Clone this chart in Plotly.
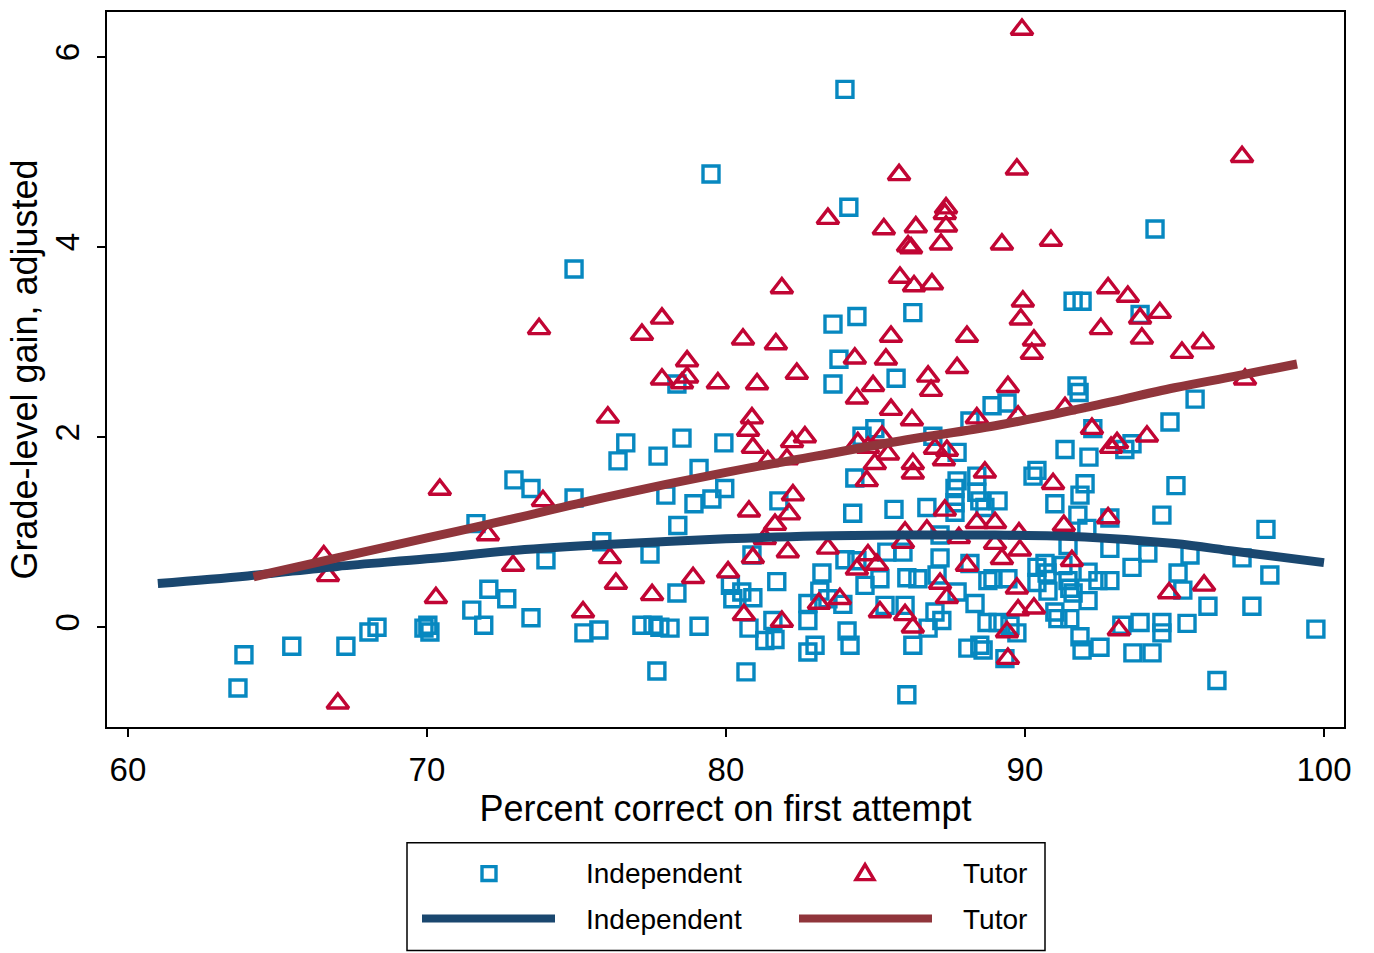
import plotly.graph_objects as go

# Independent students: percent correct on first attempt vs adjusted gain
indep_x = [
    63.68, 63.88, 65.48, 67.29, 68.06, 68.33, 69.90, 70.03, 70.10, 71.50,
    71.64, 71.90, 72.07, 72.67, 72.91, 73.48, 73.48, 73.98, 74.92, 74.92,
    75.25, 75.75, 75.85, 76.39, 76.65, 77.19, 77.56, 77.79, 78.13, 77.69,
    77.46, 78.36, 79.10, 77.73, 77.99, 78.39, 78.93, 78.53, 79.10, 79.53,
    79.93, 78.36, 79.50,
    79.96, 81.77, 84.24, 80.87, 81.70, 83.21, 80.15, 80.53, 80.90, 80.23,
    83.14, 83.41, 82.74, 82.74, 83.91, 83.98, 84.38, 84.65, 85.15, 80.77,
    81.30, 81.64, 81.57, 82.74, 82.98, 84.05, 84.15, 80.67,
    83.58, 84.38, 83.78, 83.58, 84.55, 84.98, 84.31, 83.98, 84.11,
    86.25, 85.69, 88.16, 88.90, 89.40, 86.92, 87.73, 87.73, 88.39, 90.27,
    90.40,
    85.62, 86.72, 87.66, 87.66, 87.66, 88.39, 88.49, 88.66, 89.10, 87.16,
    87.16, 85.38, 85.92, 86.05, 86.42, 87.06, 85.32, 85.99, 86.99, 87.22,
    86.76, 87.73, 88.33, 88.16, 88.76, 88.93, 89.43, 90.40, 90.40, 88.73,
    89.10, 89.50, 89.73, 86.25, 88.09, 88.49, 88.60, 89.33, 86.05,
    91.61, 91.91, 93.85, 91.74, 91.81, 95.69, 94.85, 92.27, 91.34, 92.14,
    93.58, 93.34, 92.01, 95.05,
    91.00, 91.84, 91.77, 92.07, 92.84, 94.58, 91.44, 92.84, 94.11, 93.58,
    95.52, 90.67, 90.74, 91.27, 92.11, 92.44, 92.84, 91.44, 91.50, 90.77,
    91.61, 92.11, 95.12, 95.28, 91.00, 91.10, 91.50, 91.84, 91.91, 92.51,
    93.24, 93.85, 94.58, 94.58, 95.42, 93.61, 94.25,
    98.06, 98.19, 96.12, 97.59, 99.73, 96.42, 97.26, 94.35,
]
indep_y = [
    -0.64, -0.29, -0.20, -0.20, -0.05, 0.00, -0.01, 0.02, -0.05, 0.18,
    1.09, 0.02, 0.40, 0.30, 1.55, 1.46, 0.10, 0.71, 3.77, 1.36,
    -0.06, -0.03, 0.90, 1.75, 1.94, 0.02, 0.02, 0.00, -0.01, -0.46,
    0.77, 0.36, 0.01, 1.80, 1.39, 1.07, 1.30, 1.99, 1.67, 1.35,
    1.94, 2.56, 4.77,
    1.46, 1.33, 1.20, 0.76, 0.48, 0.57, 0.44, 0.37, 0.31, 0.30,
    0.38, 0.30, 0.25, 0.07, 0.24, 0.71, 0.70, 0.44, 0.51, -0.01,
    -0.14, -0.13, 0.07, -0.26, -0.19, -0.04, -0.19, -0.47,
    3.19, 3.27, 2.82, 2.56, 2.01, 2.09, 1.57, 5.66, 4.42,
    3.31, 2.62, 2.17, 2.33, 2.36, 2.01, 1.84, 1.54, 1.59, 1.59,
    1.65,
    1.24, 1.26, 1.46, 1.31, 1.21, 1.42, 1.33, 1.26, 1.33, 0.97,
    0.73, 0.79, 0.79, 0.52, 0.51, 0.55, 0.23, 0.23, 0.16, 0.07,
    -0.01, 0.37, 0.25, 0.67, 0.49, 0.51, 0.51, 0.63, 0.47, 0.05,
    0.05, 0.02, -0.06, -0.19, -0.22, -0.19, -0.24, -0.33, -0.71,
    3.43, 3.43, 3.29, 2.54, 2.47, 2.40, 2.16, 2.09, 1.87, 1.79,
    1.93, 1.87, 1.51, 1.49,
    1.30, 1.39, 1.18, 1.04, 1.15, 1.18, 0.86, 0.83, 0.78, 0.63,
    0.76, 0.67, 0.57, 0.65, 0.58, 0.49, 0.49, 0.49, 0.41, 0.38,
    0.36, 0.28, 0.57, 0.39, 0.16, 0.09, 0.09, -0.10, -0.24, -0.21,
    0.02, 0.05, 0.05, -0.06, 0.04, -0.27, -0.27,
    1.03, 0.55, 0.22, 0.22, -0.02, -0.56, 0.73, 4.19,
]

# Tutored students
tutor_x = [
    66.55, 66.69, 67.02, 70.30, 70.43, 72.04, 72.88, 73.75, 73.88, 75.22,
    76.05, 76.12, 76.32, 77.19, 77.86, 77.53, 77.86, 78.70, 78.70, 78.53,
    78.90, 79.73, 81.87, 80.57, 81.67, 82.37, 81.04, 80.87, 80.74, 80.90,
    82.21, 82.64, 81.40, 82.04, 84.31, 84.92, 84.38, 84.41, 84.75, 84.98,
    84.71, 83.41, 85.28, 89.90, 85.79, 89.73, 97.26, 87.36, 87.32, 87.36,
    86.35, 86.19, 86.09, 87.19, 89.23, 90.87, 85.82, 86.29, 86.89, 89.93,
    89.86, 90.30, 90.23, 85.52, 88.06, 85.35, 87.73, 86.76, 86.86, 89.43,
    85.52, 86.22, 88.39, 89.77, 85.22, 85.42, 86.99, 87.39, 87.29, 86.25,
    86.25, 88.66, 92.78, 93.44, 94.51, 93.85, 92.54, 93.91, 95.25, 95.95,
    91.34, 92.24, 92.88, 93.08, 94.08, 90.94, 97.36, 95.99, 82.24, 80.77,
    82.11, 81.64, 81.30, 80.90, 82.07, 83.41, 80.07, 84.75, 85.05, 84.38,
    83.11, 83.81, 80.60, 81.87, 85.15, 87.32, 88.39, 89.00, 85.99, 86.72,
    87.79, 85.92, 89.00, 89.80, 89.83, 89.23, 88.06, 87.16, 87.39, 89.73,
    89.77, 90.30, 85.99, 86.25, 89.40, 89.43, 91.30, 92.78, 91.57, 94.82,
    93.14,
]
tutor_y = [
    0.75, 0.54, -0.80, 0.31, 1.45, 0.97, 0.65, 3.14, 1.33, 0.16,
    2.21, 0.73, 0.46, 3.08, 3.25, 0.34, 2.61, 2.80, 2.63, 2.57,
    0.52, 2.57, 3.57, 3.03, 2.98, 2.67, 2.56, 2.20, 2.07, 1.89,
    1.95, 2.00, 1.75, 1.77, 2.83, 2.54, 2.41, 1.94, 1.89, 1.72,
    1.54, 4.30, 4.19, 6.29, 4.76, 4.82, 4.95, 4.41, 4.35, 4.22,
    4.21, 3.99, 4.01, 4.03, 4.03, 4.07, 3.68, 3.59, 3.61, 3.43,
    3.24, 3.02, 2.88, 3.06, 3.06, 2.82, 2.73, 2.64, 2.49, 2.53,
    2.29, 2.18, 2.20, 2.22, 2.01, 1.82, 1.88, 1.86, 1.76, 1.72,
    1.62, 1.63, 3.57, 3.48, 3.31, 3.25, 3.14, 3.04, 2.89, 2.99,
    2.31, 2.09, 1.89, 1.94, 2.01, 1.51, 2.61, 0.44, 1.39, 1.22,
    1.19, 1.08, 0.93, 0.73, 0.79, 0.83, 0.58, 0.76, 0.66, 0.61,
    0.25, 0.30, 0.13, 0.06, 0.16, 1.23, 1.10, 1.10, 1.00, 1.02,
    0.94, 0.89, 0.88, 0.99, 0.81, 0.72, 0.65, 0.46, 0.31, 0.41,
    0.18, 0.20, 0.13, 0.00, -0.05, -0.33, 1.07, 1.15, 0.70, 0.36,
    -0.03,
]

# Smoothed (lowess) fits for each group
indep_fit_x = [61, 64, 67, 70, 73, 76, 80, 83, 86, 89, 92, 95, 97, 100]
indep_fit_y = [0.46, 0.54, 0.64, 0.72, 0.81, 0.87, 0.93, 0.96, 0.97, 0.97, 0.95, 0.88, 0.80, 0.68]
tutor_fit_x = [64.2, 67, 70, 73, 76, 80, 83, 86, 89, 92, 95, 97, 99.1]
tutor_fit_y = [0.53, 0.73, 0.94, 1.15, 1.37, 1.63, 1.80, 1.97, 2.12, 2.31, 2.52, 2.64, 2.77]

x_ticks = [60, 70, 80, 90, 100]
y_ticks = [0, 2, 4, 6]

SQ_COLOR = "#0788c0"
TRI_COLOR = "#c10534"
NAVY = "#1a476f"
MAROON = "#90353b"
FONT = "Arial, Liberation Sans, sans-serif"

fig = go.Figure()
fig.add_trace(go.Scatter(
    x=indep_x, y=indep_y, mode="markers", name="Independent",
    marker=dict(symbol="square-open", size=16, color=SQ_COLOR,
                line=dict(width=3.4, color=SQ_COLOR)),
))
fig.add_trace(go.Scatter(
    x=tutor_x, y=tutor_y, mode="markers", name="Tutor",
    marker=dict(symbol="triangle-up-open", size=19, color=TRI_COLOR,
                line=dict(width=3.4, color=TRI_COLOR)),
))
fig.add_trace(go.Scatter(
    x=indep_fit_x, y=indep_fit_y, mode="lines", name="Independent",
    line=dict(color=NAVY, width=9, shape="spline"),
))
fig.add_trace(go.Scatter(
    x=tutor_fit_x, y=tutor_fit_y, mode="lines", name="Tutor",
    line=dict(color=MAROON, width=9, shape="spline"),
))

axis_common = dict(
    showline=True, linecolor="black", linewidth=1.5, mirror=True,
    showgrid=False, zeroline=False, ticks="outside", ticklen=8,
    tickwidth=1.5, tickcolor="black", tickfont=dict(size=33, color="black"),
)
fig.update_xaxes(
    range=[59.3, 100.67], tickvals=x_ticks, ticklabelstandoff=5,
    title=dict(text="Percent correct on first attempt",
               font=dict(size=36, color="black"), standoff=0),
    **axis_common,
)
fig.update_yaxes(
    range=[-1.05, 6.474], tickvals=y_ticks, tickangle=-90, ticklabelstandoff=5,
    title=dict(text="Grade-level gain, adjusted",
               font=dict(size=36, color="black"), standoff=0),
    **axis_common,
)

# Two-row legend drawn in paper coordinates below the plot
def px_x(p):
    return (p - 107) / 1237.0


def px_y(p):
    return (727 - p) / 717.0


shapes = [
    dict(type="rect", xref="paper", yref="paper",
         x0=px_x(407), x1=px_x(1045), y0=px_y(951), y1=px_y(843),
         line=dict(color="black", width=1.5), fillcolor="white"),
    dict(type="rect", xref="paper", yref="paper",
         x0=px_x(482), x1=px_x(496), y0=px_y(881), y1=px_y(867),
         line=dict(color=SQ_COLOR, width=3.4)),
    dict(type="path", xref="paper", yref="paper",
         path="M {:.4f},{:.4f} L {:.4f},{:.4f} L {:.4f},{:.4f} Z".format(
             px_x(856), px_y(880), px_x(874), px_y(880), px_x(865), px_y(865)),
         line=dict(color=TRI_COLOR, width=3.4)),
    dict(type="line", xref="paper", yref="paper",
         x0=px_x(422), x1=px_x(555), y0=px_y(919), y1=px_y(919),
         line=dict(color=NAVY, width=8)),
    dict(type="line", xref="paper", yref="paper",
         x0=px_x(799), x1=px_x(932), y0=px_y(919), y1=px_y(919),
         line=dict(color=MAROON, width=8)),
]
annotations = []
for label, lx, ly in [("Independent", 584, 874), ("Tutor", 961, 874),
                      ("Independent", 584, 920), ("Tutor", 961, 920)]:
    annotations.append(dict(
        text=label, xref="paper", yref="paper", x=px_x(lx), y=px_y(ly),
        xanchor="left", yanchor="middle", showarrow=False,
        font=dict(size=28, color="black", family=FONT),
    ))

fig.update_layout(
    width=1374, height=953,
    margin=dict(l=107, r=30, t=10, b=226),
    plot_bgcolor="white", paper_bgcolor="white",
    showlegend=False,
    font=dict(family=FONT, color="black"),
    shapes=shapes, annotations=annotations,
)

fig.write_html("out.html")
